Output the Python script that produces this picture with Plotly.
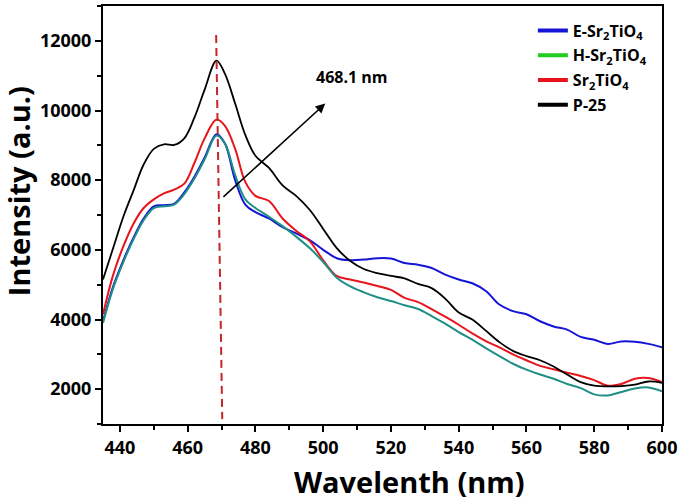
import plotly.graph_objects as go

wavelength = [435, 438, 441, 444, 447, 450, 453, 456, 459, 462, 465, 468.5, 471, 474, 477, 480,
              484, 488, 492, 496, 500, 504, 508, 512, 516, 520, 524, 528, 532, 536, 540, 544,
              548, 552, 556, 560, 564, 568, 572, 576, 580, 584, 588, 592, 596, 600]

p25 = [5150, 6050, 6950, 7700, 8450, 8900, 9030, 9010, 9200, 9800, 10600, 11430, 11050, 10200, 9300, 8700,
       8350, 7850, 7550, 7150, 6600, 6050, 5680, 5450, 5330, 5250, 5180, 5020, 4900, 4600, 4200, 4000,
       3680, 3350, 3100, 2950, 2830, 2650, 2420, 2200, 2100, 2080, 2090, 2130, 2220, 2180]

sr2tio4 = [4150, 5280, 6100, 6750, 7200, 7450, 7620, 7730, 7900, 8500, 9200, 9740, 9560, 8900, 7950, 7550,
           7400, 6900, 6550, 6250, 5700, 5250, 5150, 5060, 4960, 4850, 4620, 4500, 4300, 4080, 3850, 3600,
           3380, 3200, 3000, 2830, 2670, 2570, 2470, 2380, 2260, 2100, 2150, 2300, 2320, 2200]

h_sr2tio4 = [3900, 4900, 5650, 6300, 6850, 7200, 7250, 7300, 7600, 8050, 8600, 9280, 9050, 8150, 7450, 7200,
             6950, 6680, 6380, 6050, 5650, 5200, 4950, 4780, 4640, 4530, 4410, 4300, 4100, 3880, 3640, 3420,
             3180, 2950, 2730, 2560, 2420, 2300, 2150, 2030, 1850, 1820, 1920, 2020, 2050, 1940]

e_sr2tio4 = [3950, 4950, 5700, 6350, 6900, 7250, 7280, 7320, 7650, 8100, 8650, 9320, 9050, 8000, 7300, 7080,
             6900, 6650, 6470, 6280, 6000, 5760, 5700, 5720, 5760, 5750, 5620, 5570, 5480, 5290, 5150, 5040,
             4820, 4430, 4240, 4150, 3950, 3800, 3710, 3500, 3420, 3300, 3370, 3360, 3300, 3200]

x_ticks = [440, 460, 480, 500, 520, 540, 560, 580, 600]
y_ticks = [2000, 4000, 6000, 8000, 10000, 12000]

peak_label = "468.1 nm"
dash_line_x = [468.4, 470.2]
dash_line_y = [12170, 1140]
arrow_start = (470.1, 7480)
arrow_end = (500.6, 10200)
label_pos = (508.5, 10960)

FONT = "Open Sans"
BLUE = "#1515d8"
TEAL = "#1f8f86"
GREEN = "#22cc22"
RED = "#e8141c"
BLACK = "#000000"

fig = go.Figure()

# Curves (drawn without legend); teal curve is shown as green in the legend
fig.add_trace(go.Scatter(x=wavelength, y=e_sr2tio4, mode="lines", line=dict(color=BLUE, width=2, shape="spline"),
                         showlegend=False))
fig.add_trace(go.Scatter(x=wavelength, y=sr2tio4, mode="lines", line=dict(color=RED, width=2, shape="spline"),
                         showlegend=False))
fig.add_trace(go.Scatter(x=wavelength, y=h_sr2tio4, mode="lines", line=dict(color=TEAL, width=2, shape="spline"),
                         showlegend=False))
fig.add_trace(go.Scatter(x=wavelength, y=p25, mode="lines", line=dict(color=BLACK, width=1.8, shape="spline"),
                         showlegend=False))

# Legend entries
for i, (name, col) in enumerate([("<b>E-Sr<sub>2</sub>TiO<sub>4</sub></b>", BLUE),
                                 ("<b>H-Sr<sub>2</sub>TiO<sub>4</sub></b>", GREEN),
                                 ("<b>Sr<sub>2</sub>TiO<sub>4</sub></b>", RED),
                                 ("<b>P-25</b>", BLACK)]):
    fig.add_trace(go.Scatter(x=[None], y=[None], mode="lines", name=name, legendgroup="g%d" % i,
                             line=dict(color=col, width=4)))

fig.add_shape(type="line", xref="x", yref="y", x0=dash_line_x[0], y0=dash_line_y[0],
              x1=dash_line_x[1], y1=dash_line_y[1],
              line=dict(color="#c3262c", width=2, dash="8px,5px"))

fig.add_annotation(x=arrow_end[0], y=arrow_end[1], ax=arrow_start[0], ay=arrow_start[1],
                   xref="x", yref="y", axref="x", ayref="y", text="", showarrow=True,
                   arrowhead=2, arrowsize=1.2, arrowwidth=1.6, arrowcolor="black")
fig.add_annotation(x=label_pos[0], y=label_pos[1], xref="x", yref="y", text="<b>%s</b>" % peak_label,
                   showarrow=False, xanchor="center", yanchor="middle",
                   font=dict(family=FONT, size=16, color="black"))

fig.add_annotation(x=0.549, y=-0.138, xref="paper", yref="paper", text="<b>Wavelenth (nm)</b>",
                   showarrow=False, xanchor="center", yanchor="middle",
                   font=dict(family=FONT, size=29, color="black"))
fig.add_annotation(x=-0.152, y=0.557, xref="paper", yref="paper", text="<b>Intensity (a.u.)</b>",
                   textangle=-90, showarrow=False, xanchor="center", yanchor="middle",
                   font=dict(family=FONT, size=29, color="black"))

axis_common = dict(showgrid=False, zeroline=False, showline=True, linecolor="black", linewidth=2,
                   mirror=True, ticks="outside", ticklen=6, tickwidth=2, tickcolor="black",
                   tickfont=dict(family=FONT, size=18, color="black"))

fig.update_xaxes(range=[435, 600], tickvals=x_ticks, ticktext=["<b>%d</b>" % v for v in x_ticks],
                 minor=dict(dtick=10, tick0=430, ticks="outside", ticklen=4, tickwidth=2, tickcolor="black"),
                 **axis_common)
fig.update_yaxes(range=[1000, 13000], tickvals=y_ticks, ticktext=["<b>%d</b>" % v for v in y_ticks],
                 minor=dict(dtick=1000, tick0=0, ticks="outside", ticklen=4, tickwidth=2, tickcolor="black"),
                 **axis_common)

fig.update_layout(
    width=685, height=502,
    margin=dict(l=103, r=23, t=4, b=78),
    paper_bgcolor="white", plot_bgcolor="white",
    legend=dict(x=0.769, y=0.982, xanchor="left", yanchor="top", bgcolor="rgba(0,0,0,0)",
                font=dict(family=FONT, size=16, color="black"), tracegroupgap=1, itemwidth=30),
    font=dict(family=FONT),
)

fig.write_html("out.html", config={"displayModeBar": False},
               post_script="document.body.style.margin='0';document.body.style.padding='0';")
